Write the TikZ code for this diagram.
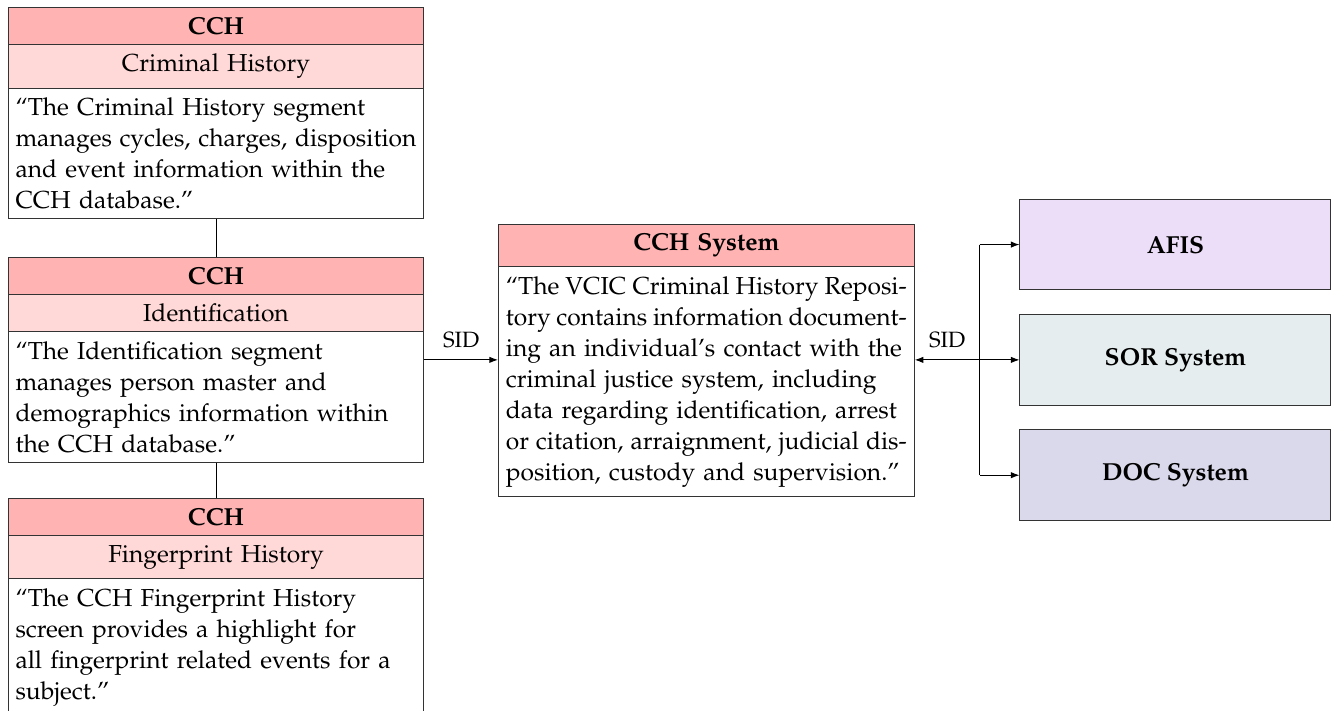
\documentclass[tikz,border=0pt]{standalone}
\usepackage[T1]{fontenc}
\usepackage{mathpazo}
\linespread{1.05}
\usetikzlibrary{positioning,shapes.multipart,arrows.meta}
\definecolor{hdrred}{RGB}{255,179,179}
\definecolor{subred}{RGB}{255,216,216}
\definecolor{afisfill}{RGB}{236,221,248}
\definecolor{sorfill}{RGB}{229,237,238}
\definecolor{docfill}{RGB}{217,217,235}
% one left-aligned line of a description, and one squeezed to full width
\newcommand{\bline}[1]{\makebox[\hsize][l]{#1}}
\newcommand{\sline}[1]{{\spaceskip=.25em plus .1em minus .12em\makebox[\hsize][s]{#1}}}
\tikzset{node distance=0.53cm, >={Latex[length=3.5pt,width=2.6pt]}}
\tikzset{
  segbox/.style={rectangle split, rectangle split parts=3, draw=black!80,
    text width=163pt, align=center, inner xsep=3pt, inner ysep=3.7pt,
    rectangle split part fill={hdrred,subred,white}},
  sysbox/.style={rectangle split, rectangle split parts=2, draw=black!80,
    text width=163pt, align=center, inner xsep=3pt, inner ysep=3.7pt,
    rectangle split part fill={hdrred,white}},
  extbox/.style={draw=black!80, minimum width=126.4pt, minimum height=36.8pt,
    font=\bfseries},
  lbl/.style={font=\small, above=1.5pt}
}

\begin{document}
\begin{tikzpicture}
\useasboundingbox (0,0) rectangle (19.045,10.158);
% CCH segments
\node[segbox] (ident) at (3.086,5.016) {\textbf{CCH}
  \nodepart{two}Identification
  \nodepart{three}\bline{``The Identification segment}\\
  \bline{manages person master and}\\
  \bline{demographics information within}\\
  \bline{the CCH database.''}};
\node[segbox, above=0.54cm of ident] (crim) {\textbf{CCH}
  \nodepart{two}Criminal History
  \nodepart{three}\bline{``The Criminal History segment}\\
  \sline{manages cycles, charges, disposition}\\
  \bline{and event information within the}\\
  \bline{CCH database.''}};
\node[segbox, below=0.51cm of ident] (fing) {\textbf{CCH}
  \nodepart{two}Fingerprint History
  \nodepart{three}\bline{``The CCH Fingerprint History}\\
  \bline{screen provides a highlight for}\\
  \bline{all fingerprint related events for a}\\
  \bline{subject.''}};
% repository
\node[sysbox, anchor=north west] (sys) at (7.115,6.964) {\textbf{CCH System}
  \nodepart{two}\sline{``The VCIC Criminal History Reposi-}\\
  \sline{tory contains information document-}\\
  \bline{ing an individual's contact with the}\\
  \bline{criminal justice system, including}\\
  \bline{data regarding identification, arrest}\\
  \sline{or citation, arraignment, judicial dis-}\\
  \bline{position, custody and supervision.''}};
% external systems
\node[extbox, fill=sorfill] (sor) at (16.794,5.016) {SOR System};
\node[extbox, fill=afisfill, above=0.34cm of sor] (afis) {AFIS};
\node[extbox, fill=docfill, below=0.34cm of sor] (doc) {DOC System};
\coordinate[left=0.57cm of sor.west] (jn);

\draw (crim.south) -- (ident.north);
\draw (ident.south) -- (fing.north);
\draw[->] (ident.east) -- node[lbl] {SID} (ident.east -| sys.west);
\draw[<->] (sys.east |- sor.west) -- node[lbl] {SID} (jn |- sor.west) -- (sor.west);
\draw[->] (jn |- afis.west) -- (afis.west);
\draw[->] (jn |- doc.west) -- (doc.west);
\draw (jn |- afis.west) -- (jn |- doc.west);
\end{tikzpicture}
\end{document}
